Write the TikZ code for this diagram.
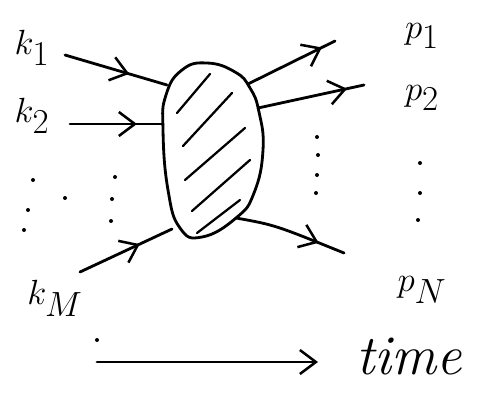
\documentclass[tikz,border=0pt]{standalone}
\usetikzlibrary{arrows.meta,decorations.markings}
\tikzset{
  midarrow/.style={postaction=decorate,decoration={markings,
    mark=at position #1 with {\arrow{Straight Barb[length=4mm,width=6mm,line width=1.8pt]}}}},
  lbl/.style={font=\fontsize{40}{44}\selectfont},
  dotmark/.style={fill=black,draw=none}
}
\begin{document}
\begin{tikzpicture}[x=0.025cm,y=-0.025cm,line width=2pt,line join=round,line cap=round]
	\useasboundingbox (0,0) rectangle (485,394);
	% the blob
	\draw plot[smooth cycle,tension=0.8] coordinates{(207,63) (235,72) (250,88) (259,112) (263,150) (254,193) (236,218) (202,237) (180,228) (168,190) (163,130) (166,95) (182,70)};
	\foreach \a/\b in {{(177,113)}/{(210,74)},{(183,146)}/{(232,93)},{(185,180)}/{(245,128)},{(192,211)}/{(250,160)},{(197,233)}/{(240,200)}}
		\draw[line width=1.6pt] \a--\b;
	% labels
	\node[lbl] (k1) at (32,48) {$k_1$};
	\node[lbl] (k2) at (32,116) {$k_2$};
	\node[lbl] (kM) at (55,298) {$k_M$};
	\node[lbl] (p1) at (422,36) {$p_1$};
	\node[lbl] (p2) at (422,98) {$p_2$};
	\node[lbl] (pN) at (422,290) {$p_N$};
	\node[lbl,anchor=west] (time) at (350,356) {\textit{time}};
	% arrow ends
	\coordinate (a1) at (65,55);   \coordinate (b1) at (167,85);
	\coordinate (a2) at (70,124);  \coordinate (b2) at (163,124);
	\coordinate (aM) at (80,272);  \coordinate (bM) at (172,229);
	\coordinate (c1) at (248,84);  \coordinate (d1) at (335,41);
	\coordinate (c2) at (258,108); \coordinate (d2) at (364,85);
	\coordinate (cN) at (236,218); \coordinate (dN) at (344,253);
	\coordinate (t0) at (97,362);  \coordinate (t1) at (318,362);
	\draw[midarrow=0.63] (a1)--(b1);
	\draw[midarrow=0.72] (a2)--(b2);
	\draw[midarrow=0.65] (aM)--(bM);
	\draw[midarrow=0.85] (c1)--(d1);
	\draw[midarrow=0.84] (c2)--(d2);
	\draw[midarrow=0.76] (cN)..controls (275,225)..(dN);
	\draw[-{Straight Barb[length=4mm,width=6mm,line width=1.8pt]}] (t0)--(t1);
	% dots
	\foreach \p in {(33,180),(28,210),(24,230),(65,198),(115,177),(112,199),(111,221),
		(317,137),(318,155),(317,175),(316,193),(420,163),(420,193),(418,220),(97,340)}
		\fill[dotmark] \p circle (2);
\end{tikzpicture}
\end{document}
